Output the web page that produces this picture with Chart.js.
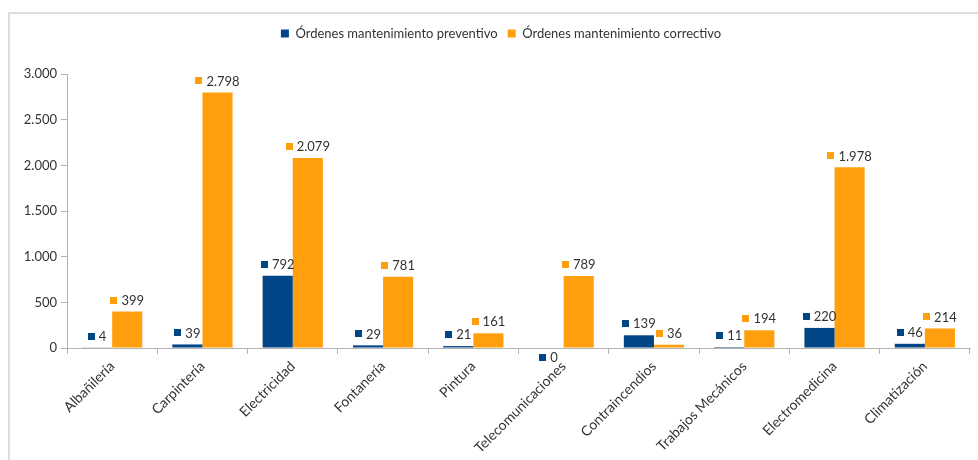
<!DOCTYPE html>
<html>
<head>
<meta charset="utf-8">
<script src="https://cdn.jsdelivr.net/npm/chart.js@4.4.0/dist/chart.umd.min.js"></script>
<style>
html, body { margin: 0; padding: 0; background: #fff; }
#wrap { position: relative; width: 978px; height: 460px; }
#marco { position: absolute; left: 8px; top: 12px; right: 0; bottom: 0; border-top: 2px solid #dedede; border-left: 2px solid #dedede; }
canvas { position: absolute; left: 0; top: 0; }
</style>
</head>
<body>
<div id="wrap">
    <div id="marco"></div>
    <canvas id="grafico" width="978" height="460"></canvas>
</div>
<script>
const categorias = ['Albañilería', 'Carpintería', 'Electricidad', 'Fontanería', 'Pintura',
    'Telecomunicaciones', 'Contraincendios', 'Trabajos Mecánicos', 'Electromedicina', 'Climatización'];
const preventivo = [4, 39, 792, 29, 21, 0, 139, 11, 220, 46];
const correctivo = [399, 2798, 2079, 781, 161, 789, 36, 194, 1978, 214];
const ticksY = [0, 500, 1000, 1500, 2000, 2500, 3000];

const AZUL = '#004586';
const NARANJA = '#ff9f0e';
const FUENTE = 'Lato';

// separador de miles con punto
function formato(v) {
    return String(v).replace(/\B(?=(\d{3})+(?!\d))/g, '.');
}

// etiquetas de datos: cuadradito + valor encima de cada barra
const etiquetas = {
    id: 'etiquetas',
    afterDatasetsDraw(chart) {
        const ctx = chart.ctx;
        ctx.save();
        ctx.font = '13px ' + FUENTE;
        ctx.textBaseline = 'middle';
        ctx.textAlign = 'left';
        chart.data.datasets.forEach((ds, i) => {
            chart.getDatasetMeta(i).data.forEach((bar, j) => {
                const v = ds.data[j];
                const txt = formato(v);
                const w = 7 + 4 + ctx.measureText(txt).width;
                const x0 = bar.x - w / 2;
                const y = v === 0 ? bar.base + 10 : bar.y - 11;
                ctx.fillStyle = ds.backgroundColor;
                ctx.fillRect(Math.round(x0), Math.round(y - 4), 7, 7);
                ctx.fillStyle = '#333';
                ctx.fillText(txt, x0 + 11, y);
            });
        });
        ctx.restore();
    }
};

// espacio extra bajo la leyenda y leyenda algo desplazada a la derecha
const espacioLeyenda = {
    id: 'espacioLeyenda',
    beforeInit(chart) {
        const fitOrig = chart.legend.fit;
        chart.legend.fit = function () {
            fitOrig.call(this);
            this.height += 24;
        };
    },
    afterLayout(chart) {
        chart.legend.left += 16;
        chart.legend.right += 16;
    }
};

new Chart(document.getElementById('grafico'), {
    type: 'bar',
    data: {
        labels: categorias,
        datasets: [{
            label: 'Órdenes mantenimiento preventivo',
            data: preventivo,
            backgroundColor: AZUL,
            categoryPercentage: 0.667,
            barPercentage: 1
        }, {
            label: 'Órdenes mantenimiento correctivo',
            data: correctivo,
            backgroundColor: NARANJA,
            categoryPercentage: 0.667,
            barPercentage: 1
        }]
    },
    options: {
        responsive: false,
        animation: false,
        layout: { padding: { top: 17, right: 8, left: 0, bottom: 0 } },
        plugins: {
            legend: {
                position: 'top',
                labels: {
                    boxWidth: 8,
                    boxHeight: 8,
                    padding: 10,
                    color: '#333',
                    font: { family: FUENTE, size: 13 }
                }
            },
            tooltip: { enabled: false }
        },
        scales: {
            x: {
                grid: { display: true, drawOnChartArea: false, drawTicks: true, tickLength: 6, color: '#b3b3b3', offset: true },
                border: { display: true, color: '#b3b3b3' },
                ticks: {
                    minRotation: 45,
                    maxRotation: 45,
                    padding: 4,
                    color: '#333',
                    font: { family: FUENTE, size: 14 }
                },
                afterFit(scale) { scale.height = 112; }
            },
            y: {
                min: 0,
                max: 3000,
                afterBuildTicks(scale) { scale.ticks = ticksY.map(v => ({ value: v })); },
                grid: { display: true, drawOnChartArea: false, drawTicks: true, tickLength: 6, color: '#b3b3b3' },
                border: { display: true, color: '#b3b3b3' },
                ticks: {
                    padding: 4,
                    color: '#333',
                    font: { family: FUENTE, size: 13 },
                    callback: v => formato(v)
                },
                afterFit(scale) { scale.width = 67; }
            }
        }
    },
    plugins: [etiquetas, espacioLeyenda]
});
</script>
</body>
</html>
